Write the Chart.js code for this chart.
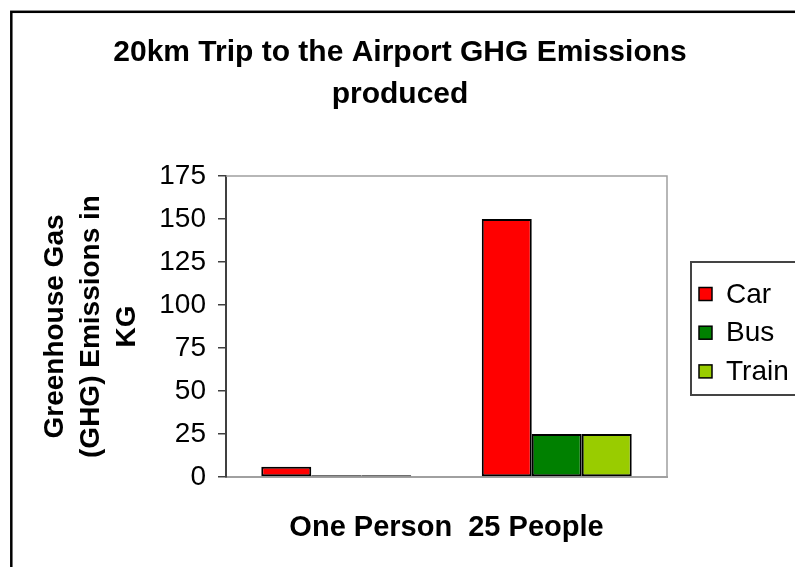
<!DOCTYPE html>
<html>
<head>
<meta charset="utf-8">
<script src="https://cdn.jsdelivr.net/npm/chart.js@4/dist/chart.umd.min.js"></script>
<style>
    body { margin: 0; background: #fff; }
    #wrap { width: 795px; height: 567px; }
</style>
</head>
<body>
<div id="wrap"><canvas id="chartGhg" width="795" height="567"></canvas></div>
<script>
// chart data
var categories = ["One Person", "25 People"];
var carValues = [6, 150];
var busValues = [1, 25];
var trainValues = [1, 25];
var seriesNames = ["Car", "Bus", "Train"];
var seriesColors = ["#ff0000", "#008000", "#99cc00"];

var chartTitle = ["20km Trip to the Airport GHG Emissions", "produced"];
var yTitle = ["Greenhouse Gas", "(GHG) Emissions in", "KG"];
var xTitle = "One Person  25 People";

var FONT = "'Liberation Sans', Arial, sans-serif";

var dataEmissions = {
    labels: categories,
    datasets: [
        { label: seriesNames[0], backgroundColor: seriesColors[0], data: carValues },
        { label: seriesNames[1], backgroundColor: seriesColors[1], data: busValues },
        { label: seriesNames[2], backgroundColor: seriesColors[2], data: trainValues }
    ]
};

dataEmissions.datasets.forEach(function(ds) {
    ds.borderColor = "#000";
    ds.borderWidth = 2;
    ds.borderSkipped = false;
    ds.categoryPercentage = 0.68;
    ds.barPercentage = 1.0;
});

// outer frame, title, plot border and the boxed legend
var framePlugin = {
    id: 'frame',
    afterDraw: function(chart) {
        var ctx = chart.ctx;
        var area = chart.chartArea;
        ctx.save();
        ctx.strokeStyle = "#000";
        ctx.lineWidth = 2.5;
        ctx.strokeRect(11.3, 11.8, 900, 700);

        // title
        ctx.fillStyle = "#000";
        ctx.font = "bold 30px " + FONT;
        ctx.textAlign = "center";
        ctx.textBaseline = "middle";
        chartTitle.forEach(function(line, i) {
            ctx.fillText(line, 400, 53 + i * 42);
        });

        ctx.strokeStyle = "#a0a0a0";
        ctx.lineWidth = 1.5;
        ctx.beginPath();
        ctx.moveTo(area.left, area.top);
        ctx.lineTo(area.right, area.top);
        ctx.lineTo(area.right, area.bottom);
        ctx.stroke();

        // legend
        var lx = 690, ly = 261, lh = 133;
        ctx.strokeStyle = "#444";
        ctx.lineWidth = 2;
        ctx.strokeRect(lx + 1, ly + 1, 200, lh);
        ctx.font = "28px " + FONT;
        ctx.textAlign = "left";
        chart.data.datasets.forEach(function(ds, i) {
            var cy = ly + 33 + i * 38.7;
            ctx.fillStyle = ds.backgroundColor;
            ctx.fillRect(lx + 9, cy - 6.5, 13, 13);
            ctx.strokeStyle = "#000";
            ctx.lineWidth = 1.5;
            ctx.strokeRect(lx + 9, cy - 6.5, 13, 13);
            ctx.fillStyle = "#000";
            ctx.fillText(ds.label, lx + 36, cy + 1);
        });
        ctx.restore();
    }
};

var ctx = document.querySelector("#chartGhg").getContext("2d");
var ghgChart = new Chart(ctx, {
    type: 'bar',
    data: dataEmissions,
    plugins: [framePlugin],
    options: {
        responsive: false,
        animation: false,
        layout: { padding: { left: 12, right: 128, top: 176, bottom: 0 } },
        plugins: {
            legend: { display: false },
            tooltip: { enabled: false },
            title: { display: false }
        },
        scales: {
            x: {
                grid: { display: false },
                border: { color: "#a0a0a0", width: 2 },
                ticks: { display: false },
                title: {
                    display: true,
                    text: xTitle,
                    color: "#000",
                    font: { family: FONT, size: 29, weight: 'bold', lineHeight: 1.2 },
                    padding: { top: 0, bottom: 22 }
                },
                afterFit: function(scale) { scale.height = 90; }
            },
            y: {
                min: 0,
                max: 175,
                grid: { drawOnChartArea: false, drawTicks: true, tickLength: 8, color: "#404040", lineWidth: 1.5 },
                border: { color: "#404040", width: 2 },
                ticks: {
                    stepSize: 25,
                    color: "#000",
                    padding: 12,
                    font: { family: FONT, size: 28 }
                },
                title: {
                    display: true,
                    text: yTitle,
                    color: "#000",
                    font: { family: FONT, size: 28, weight: 'bold', lineHeight: 1.29 },
                    padding: { top: 25, bottom: 0 }
                },
                afterFit: function(scale) { scale.width = 214; }
            }
        }
    }
});
</script>
</body>
</html>
